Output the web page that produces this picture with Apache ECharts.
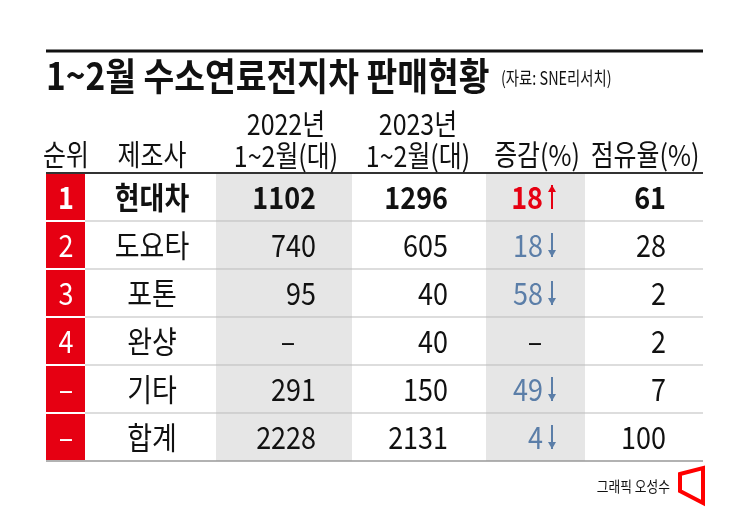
<!DOCTYPE html>
<html>
<head>
<meta charset="utf-8">
<script src="https://cdn.jsdelivr.net/npm/echarts@6/dist/echarts.min.js"></script>
<style>
  html, body { margin: 0; padding: 0; background: #fff; }
  #main { width: 745px; height: 510px; }
</style>
</head>
<body>
<div id="main"></div>
<script>
// 표 데이터
var title = "1~2월 수소연료전지차 판매현황";
var source = "(자료: SNE리서치)";
var headers = ["순위", "제조사", "2022년\n1~2월(대)", "2023년\n1~2월(대)", "증감(%)", "점유율(%)"];
var ranks = ["1", "2", "3", "4", "–", "–"];
var makers = ["현대차", "도요타", "포톤", "완샹", "기타", "합계"];
var sales2022 = ["1102", "740", "95", "–", "291", "2228"];
var sales2023 = ["1296", "605", "40", "40", "150", "2131"];
var changes = ["18", "18", "58", "–", "49", "4"];
var changeDir = ["up", "down", "down", "", "down", "down"];
var shares = ["61", "28", "2", "2", "7", "100"];
var credit = "그래픽 오성수";

var FONT = '"Noto Sans CJK KR", "Noto Sans", sans-serif';
var top0 = 173, rowH = 48, L = 46, R = 703;
var RED = "#e60012", BLUE = "#5b7ea8";

var els = [];
function txt(x, y, s, opt) {
    opt = opt || {};
    els.push({
        type: "text", x: x, y: y, scaleX: opt.sx || 0.86,
        style: {
            text: s, fill: opt.fill || "#111",
            font: (opt.weight || "normal") + " " + (opt.size || 24) + "px " + FONT,
            align: opt.align || "center", verticalAlign: "middle",
            lineHeight: opt.lh || 32
        },
        z: 10
    });
}
function rect(x, y, w, h, fill) {
    els.push({ type: "rect", shape: { x: x, y: y, width: w, height: h }, style: { fill: fill }, z: 1 });
}
function line(x1, y1, x2, y2, stroke, w) {
    els.push({ type: "line", shape: { x1: x1, y1: y1, x2: x2, y2: y2 }, style: { stroke: stroke, lineWidth: w }, z: 5 });
}
function arrow(x, yc, dir, color) {
    var h = 24, y1 = yc - h / 2, y2 = yc + h / 2;
    line(x, y1, x, y2, color, 2);
    var tip = dir === "up" ? y1 : y2, d = dir === "up" ? 7 : -7;
    els.push({ type: "polygon", shape: { points: [[x - 4, tip + d], [x, tip], [x + 4, tip + d]] },
        style: { fill: color }, z: 6 });
}

// 제목
line(L, 51, R, 51, "#111", 3);
txt(L, 76, title, { size: 38, weight: "bold", align: "left", sx: 0.88 });
txt(501, 78, source, { size: 18, align: "left", sx: 0.8 });

// 음영 열
rect(216, top0, 136, rowH * 6, "#e6e6e6");
rect(486, top0, 99, rowH * 6, "#e6e6e6");

// 머리글
var hx = [66, 152, 286, 418, 537, 645];
headers.forEach(function (h, i) {
    var y = h.indexOf("\n") >= 0 ? 140 : 155;
    txt(hx[i], y, h, { size: 29, sx: 0.86 });
});
line(L, top0, R, top0, "#333", 2);

var S = 31, SXB = 0.87;
for (var i = 0; i < 6; i++) {
    var y0 = top0 + i * rowH, yc = y0 + rowH / 2;
    rect(L, y0 + 1, 39, rowH - 2, RED);
    if (i > 0) line(85, y0, R, y0, "#bbb", 1);
    var b = i === 0 ? "bold" : "normal";
    txt(66, yc, ranks[i], { fill: "#fff", size: S, weight: b, sx: SXB });
    txt(152, yc, makers[i], { size: S, weight: b, sx: SXB });
    var dash = sales2022[i] === "–";
    txt(dash ? 288 : 316, yc, sales2022[i], { size: S, weight: b, align: dash ? "center" : "right", sx: SXB });
    txt(448, yc, sales2023[i], { size: S, weight: b, align: "right", sx: SXB });
    if (changeDir[i]) {
        var c = changeDir[i] === "up" ? RED : BLUE;
        txt(543, yc, changes[i], { size: S, weight: b, align: "right", fill: c, sx: SXB });
        arrow(552, yc, changeDir[i], c);
    } else {
        txt(535, yc, changes[i], { size: S, sx: SXB });
    }
    txt(666, yc, shares[i], { size: S, weight: b, align: "right", sx: SXB });
}
line(L, top0 + rowH * 6, R, top0 + rowH * 6, "#999", 1.5);

// 크레딧
txt(670, 486, credit, { size: 15, align: "right", sx: 0.85 });
els.push({ type: "polygon", shape: { points: [[680, 474], [703, 468], [703, 503], [680, 491]] },
    style: { fill: "none", stroke: "#f00", lineWidth: 4, lineJoin: "miter" }, z: 6 });

var chart = echarts.init(document.getElementById("main"));
chart.setOption({ animation: false, graphic: { elements: els } });
</script>
</body>
</html>
